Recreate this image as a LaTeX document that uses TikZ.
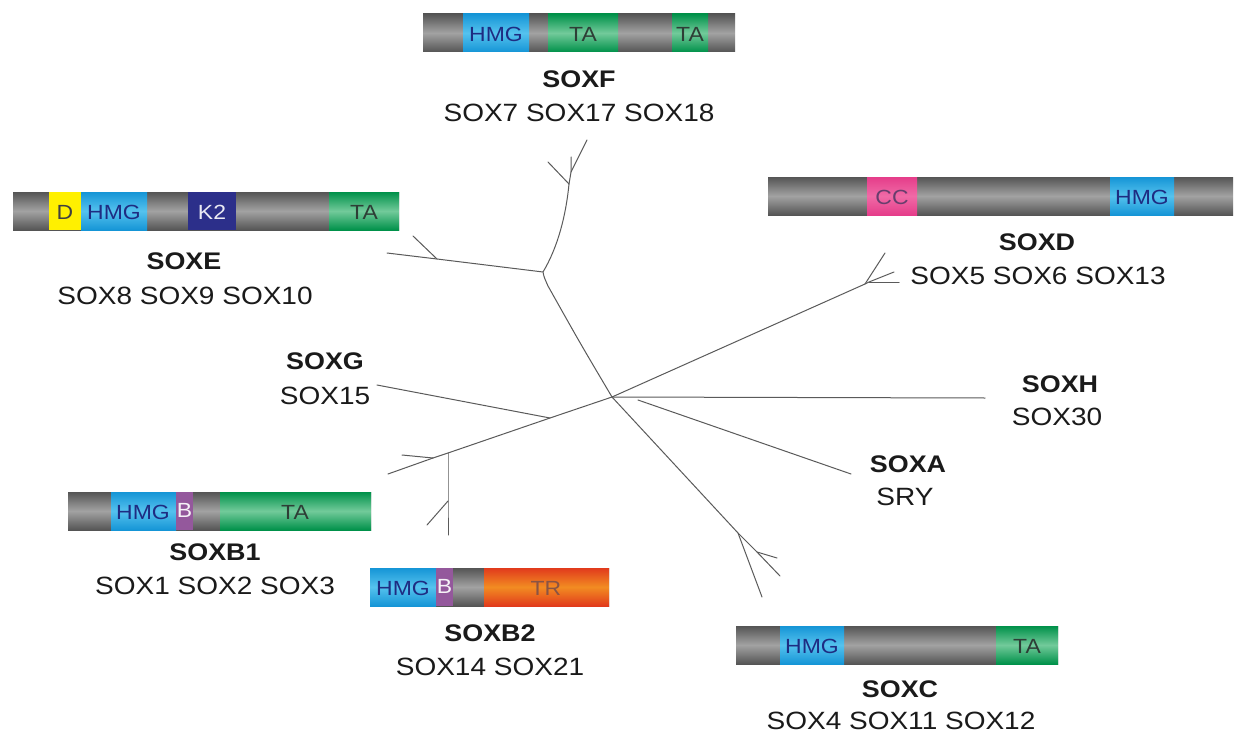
\documentclass[tikz,border=0pt]{standalone}
\usepackage{fontspec}
\setmainfont{Liberation Sans}[FakeStretch=1.12]
\definecolor{gdark}{HTML}{555555}
\definecolor{glight}{HTML}{A2A2A2}
\definecolor{bdark}{HTML}{1595D6}
\definecolor{blight}{HTML}{55C2EE}
\definecolor{grdark}{HTML}{00914A}
\definecolor{grlight}{HTML}{72CA9A}
\definecolor{yel}{HTML}{FFF000}
\definecolor{navy}{HTML}{2C2F8A}
\definecolor{pinkd}{HTML}{E53D8A}
\definecolor{pinkl}{HTML}{F06AA6}
\definecolor{purp}{HTML}{94589C}
\definecolor{oradark}{HTML}{E13A1C}
\definecolor{oralight}{HTML}{F28C22}
\definecolor{hmgtxt}{HTML}{1E2C82}
\definecolor{tatxt}{HTML}{2E3E36}
\definecolor{trtxt}{HTML}{8A5444}
\definecolor{treeline}{HTML}{5A5A5A}
\definecolor{labtxt}{HTML}{1A1A1A}
\begin{document}
\begin{tikzpicture}[x=1pt,y=-1pt,
  graybar/.style={top color=gdark,bottom color=gdark,middle color=glight},
  blueseg/.style={top color=bdark,bottom color=bdark,middle color=blight},
  greenseg/.style={top color=grdark,bottom color=grdark,middle color=grlight},
  yelseg/.style={fill=yel},
  navyseg/.style={fill=navy},
  pinkseg/.style={top color=pinkd,bottom color=pinkd,middle color=pinkl},
  purpseg/.style={fill=purp},
  oraseg/.style={top color=oradark,bottom color=oradark,middle color=oralight},
  seglab/.style={inner sep=0pt,font=\fontsize{20.5}{24}\selectfont},
  hmglab/.style={seglab,text=hmgtxt},
  talab/.style={seglab,text=tatxt},
  famname/.style={inner sep=0pt,text=labtxt,font=\fontsize{24}{28}\selectfont\bfseries},
  memb/.style={inner sep=0pt,text=labtxt,font=\fontsize{25}{30}\selectfont},
  branch/.style={draw=treeline,line width=1pt,line cap=round,line join=round}]
\useasboundingbox[fill=white] (0,0) rectangle (1234,733);

% ---------- SOXF bar ----------
\shade[graybar] (423,14) rectangle (735,52);
\shade[blueseg] (463,14) rectangle (529,52);
\shade[greenseg] (548,14) rectangle (618,52);
\shade[greenseg] (672,14) rectangle (708,52);
\node[hmglab] (fhmg) at (496,34) {HMG};
\node[talab] (fta1) at (583,34) {TA};
\node[talab] (fta2) at (690,34) {TA};
\node[famname] (soxf) at (579,79) {SOXF};
\node[memb] (soxfm) at (579,113) {SOX7 SOX17 SOX18};

% ---------- SOXE bar ----------
\shade[graybar] (13,192) rectangle (399,230);
\fill[yelseg] (49,192) rectangle (81,230);
\shade[blueseg] (81,192) rectangle (147,230);
\fill[navyseg] (188,192) rectangle (236,230);
\shade[greenseg] (329,192) rectangle (399,230);
\node[seglab,text=black!75] (ed) at (65,212) {D};
\node[hmglab] (ehmg) at (114,212) {HMG};
\node[seglab,text=white!90!navy] (ek2) at (212,212) {K2};
\node[talab] (eta) at (364,212) {TA};
\node[famname] (soxe) at (184,261) {SOXE};
\node[memb] (soxem) at (185,296) {SOX8 SOX9 SOX10};

% ---------- SOXD bar ----------
\shade[graybar] (768,177) rectangle (1233,215);
\shade[pinkseg] (867,177) rectangle (917,215);
\shade[blueseg] (1110,177) rectangle (1174,215);
\node[seglab,text=purp!70!black] (dcc) at (892,197) {CC};
\node[hmglab] (dhmg) at (1142,197) {HMG};
\node[famname] (soxd) at (1037,242) {SOXD};
\node[memb] (soxdm) at (1038,276) {SOX5 SOX6 SOX13};

% ---------- SOXG / SOXH / SOXA ----------
\node[famname] (soxg) at (325,361) {SOXG};
\node[memb] (soxgm) at (325,396) {SOX15};
\node[famname] (soxh) at (1060,384) {SOXH};
\node[memb] (soxhm) at (1057,417) {SOX30};
\node[famname] (soxa) at (908,464) {SOXA};
\node[memb] (soxam) at (905,497) {SRY};

% ---------- SOXB1 bar ----------
\shade[graybar] (68,492) rectangle (371,530);
\shade[blueseg] (111,492) rectangle (176,530);
\fill[purpseg] (176,492) rectangle (193,530);
\shade[greenseg] (220,492) rectangle (371,530);
\node[hmglab] (b1hmg) at (143,512) {HMG};
\node[seglab,text=white!92!purp] (b1b) at (184.5,510) {B};
\node[talab] (b1ta) at (295,512) {TA};
\node[famname] (soxb1) at (215,552) {SOXB1};
\node[memb] (soxb1m) at (215,586) {SOX1 SOX2 SOX3};

% ---------- SOXB2 bar ----------
\shade[graybar] (370,568) rectangle (609,606);
\shade[blueseg] (370,568) rectangle (436,606);
\fill[purpseg] (436,568) rectangle (453,606);
\shade[oraseg] (484,568) rectangle (609,606);
\node[hmglab] (b2hmg) at (403,588) {HMG};
\node[seglab,text=white!92!purp] (b2b) at (444.5,586) {B};
\node[seglab,text=trtxt] (b2tr) at (546,588) {TR};
\node[famname] (soxb2) at (490,633) {SOXB2};
\node[memb] (soxb2m) at (490,667) {SOX14 SOX21};

% ---------- SOXC bar ----------
\shade[graybar] (736,626) rectangle (1058,664);
\shade[blueseg] (780,626) rectangle (844,664);
\shade[greenseg] (996,626) rectangle (1058,664);
\node[hmglab] (chmg) at (812,646) {HMG};
\node[talab] (cta) at (1027,646) {TA};
\node[famname] (soxc) at (900,689) {SOXC};
\node[memb] (soxcm) at (901,721) {SOX4 SOX11 SOX12};

% ---------- tree ----------
\coordinate (C) at (612,397);
% SOXF clade
\coordinate (fA) at (569,184);
\coordinate (fB) at (571,172);
\coordinate (fL1) at (548,162);
\coordinate (fL2) at (571,157);
\coordinate (fL3) at (587,140);
\coordinate (eN) at (543,272);
\coordinate (eK) at (548,286);
\draw[branch] (fA) -- (fL1);
\draw[branch] (fA) -- (fB) -- (fL2);
\draw[branch] (fB) -- (fL3);
\draw[branch] (fA) .. controls (566,215) and (558,247) .. (eN)
  .. controls (544,277) .. (eK) .. controls (580,343) .. (C);
% SOXE clade
\coordinate (eB) at (437,259);
\coordinate (eL1) at (387,253);
\coordinate (eL2) at (413,236);
\draw[branch] (eN) -- (eB) -- (eL1);
\draw[branch] (eB) -- (eL2);
% SOXD clade
\coordinate (dN1) at (865,284);
\coordinate (dN2) at (869,282);
\coordinate (dL1) at (885,253);
\coordinate (dL2) at (894,272);
\coordinate (dL3) at (899,282);
\draw[branch] (C) -- (dN1) -- (dL1);
\draw[branch] (dN1) -- (dN2) -- (dL2);
\draw[branch] (dN2) -- (dL3);
% SOXH and SOXA
\coordinate (hL) at (985,398);
\draw[branch] (C) -- (hL);
\coordinate (aS) at (638,400);
\coordinate (aL) at (851,474);
\draw[branch] (aS) -- (aL);
% SOXC clade
\coordinate (cN1) at (738,533);
\coordinate (cN2) at (757,552);
\coordinate (cL1) at (762,597);
\coordinate (cL2) at (780,576);
\coordinate (cL3) at (777,558);
\draw[branch] (C) -- (cN1) -- (cL1);
\draw[branch] (cN1) -- (cN2) -- (cL2);
\draw[branch] (cN2) -- (cL3);
% SOXG and SOXB clades
\coordinate (gN) at (550,418);
\coordinate (gL) at (377,385);
\coordinate (b2N) at (448,453);
\coordinate (b1N) at (433,458);
\coordinate (b1L1) at (388,474);
\coordinate (b1L2) at (402,455);
\coordinate (b2M) at (448,501);
\coordinate (b2L1) at (448,535);
\coordinate (b2L2) at (427,525);
\draw[branch] (C) -- (gN) -- (gL);
\draw[branch] (gN) -- (b2N) -- (b1N) -- (b1L1);
\draw[branch] (b1N) -- (b1L2);
\draw[branch] (b2N) -- (b2M) -- (b2L1);
\draw[branch] (b2M) -- (b2L2);
\end{tikzpicture}
\end{document}
